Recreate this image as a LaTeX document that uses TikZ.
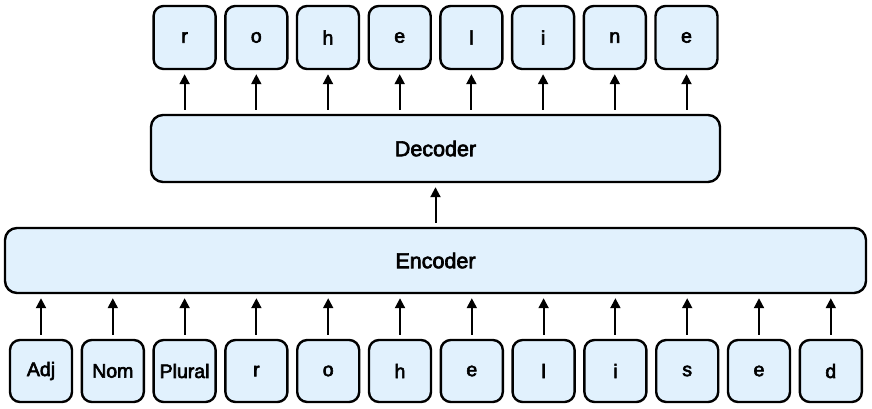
\documentclass[tikz,border=0pt]{standalone}
\usepackage{fontspec}
\setmainfont{Liberation Sans}
\newfontfamily\medfont{Liberation Sans}[FakeBold=3]
\usetikzlibrary{arrows.meta}
\definecolor{boxfill}{HTML}{E1F1FD}
\begin{document}
\begin{tikzpicture}[x=1pt,y=-1pt,
  tok/.style={draw=black,fill=boxfill,line width=2.4pt,rounded corners=10pt,minimum width=62pt,minimum height=62pt,inner sep=0pt,font=\medfont\fontsize{19.5}{22}\selectfont},
  bigbox/.style={draw=black,fill=boxfill,line width=2.4pt,rounded corners=12pt,inner sep=0pt,font=\medfont\fontsize{21.5}{24}\selectfont},
  arr/.style={line width=2pt,-{Triangle[length=10pt,width=10pt]},shorten <=4pt,shorten >=4pt}]
\useasboundingbox (0,0) rectangle (872,409);
% bottom tokens
\foreach \t [count=\i from 0] in {Adj,Nom,Plural,r,o,h,e,l,i,s,e,d}{
  \node[tok] (b\i) at ({41+\i*71.8},371) {\t};
}
\node[bigbox,minimum width=861pt,minimum height=65pt] (enc) at (435.5,260.5) {Encoder};
\node[bigbox,minimum width=569pt,minimum height=67pt] (dec) at (435.5,148.5) {Decoder};
\foreach \t [count=\j from 0] in {r,o,h,e,l,i,n,e}{
  \node[tok,minimum height=63pt] (t\j) at ({184.6+\j*71.7},37.5) {\t};
}
\foreach \i in {0,...,11}{
  \draw[arr] (b\i.north) -- (b\i.north |- enc.south);
}
\draw[arr] (enc.north) -- (dec.south);
\foreach \j in {0,...,7}{
  \draw[arr] (t\j.south |- dec.north) -- (t\j.south);
}
\end{tikzpicture}
\end{document}
